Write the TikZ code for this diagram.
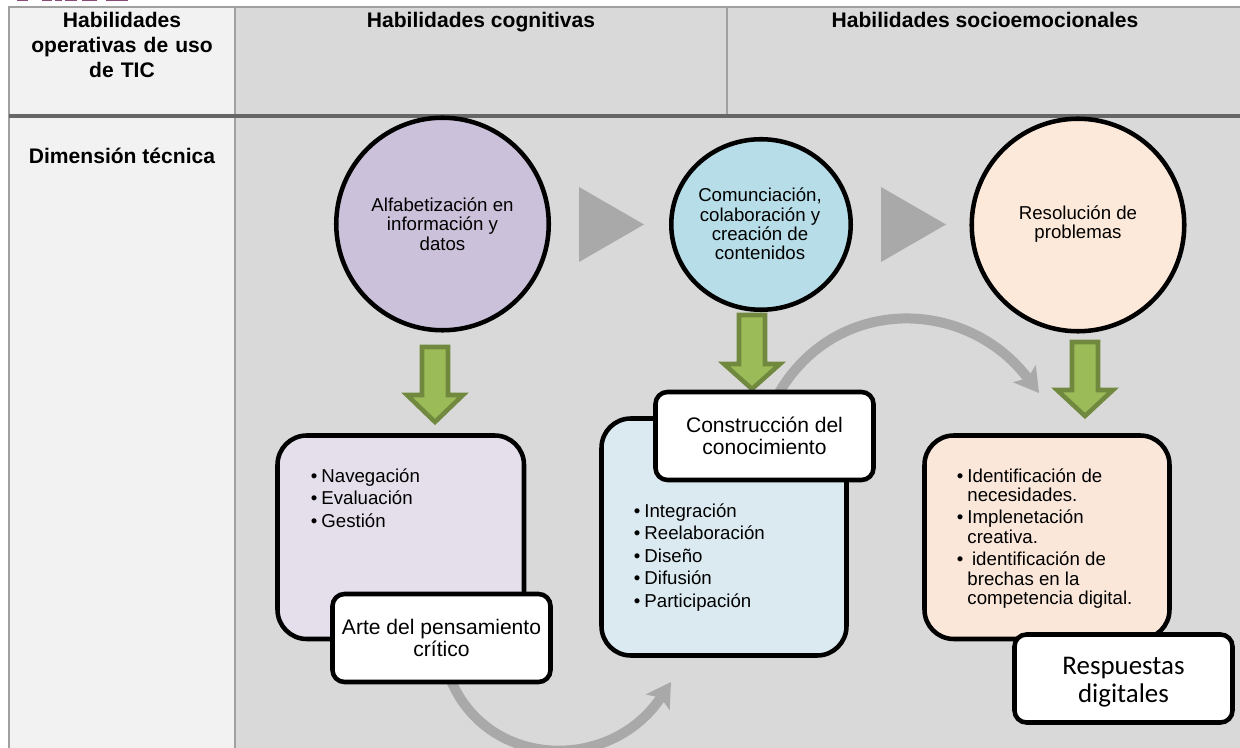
\documentclass[tikz,border=0pt]{standalone}
\usepackage{fontspec}
\setmainfont{Liberation Sans}
\usetikzlibrary{arrows.meta,shapes.geometric}
\newfontfamily\carlitofont{Carlito}
\newcommand{\dotitem}{\makebox[8pt][l]{•}}
\newcommand{\dotskip}{\hspace*{8pt}}
\definecolor{headgray}{HTML}{D9D9D9}
\definecolor{sidegray}{HTML}{F2F2F2}
\definecolor{rulegray}{HTML}{A0A0A0}
\definecolor{rowrule}{HTML}{666666}
\definecolor{tipgray}{HTML}{A9A9A9}
\definecolor{arrowfill}{HTML}{9BBB59}
\definecolor{arrowline}{HTML}{71893F}
\definecolor{logopurple}{HTML}{8A4A78}
\begin{document}
\begin{tikzpicture}[x=.75pt,y=-.75pt,
      circleitem/.style={ellipse, draw, line width=3.4pt, inner sep=0pt},
      circletext/.style={align=center, inner sep=0pt, font=\fontsize{14}{14.6}\selectfont},
      listbox/.style={rounded corners=22pt, draw, line width=3.4pt},
      labelbox/.style={rounded corners=9pt, draw, fill=white, line width=3.4pt, align=center, minimum width=163.5pt, minimum height=66pt, font=\fontsize{15.8}{16.6}\selectfont},
      listtext/.style={anchor=north west, inner sep=0pt, align=left, font=\fontsize{14}{16.9}\selectfont},
      headtext/.style={align=center, inner sep=0pt, font=\bfseries\fontsize{15.8}{18.8}\selectfont},
      flow/.style={line width=7.5pt, tipgray, -{Stealth[length=18pt,width=21pt,inset=4pt]}},
      nextmark/.style={fill=tipgray, draw=none},
      downarrow/.style={fill=arrowfill, draw=arrowline, line width=3.4pt, miter limit=10}]
   \useasboundingbox (0,0) rectangle (1240,748);

   % table
   \fill[sidegray] (9,7) rectangle (235,748);
   \fill[headgray] (235,7) rectangle (1240,748);
   \draw[rulegray, line width=2.2pt] (1240,7) -- (9,7) -- (9,748);
   \draw[rulegray, line width=2.2pt] (235,7) -- (235,748);
   \draw[rulegray, line width=1pt] (727,7) -- (727,116);
   \draw[rowrule, line width=3.2pt] (9,116) -- (1240,116);

   \node[headtext, text width=200pt, anchor=north] (tic) at (122,12) {Habilidades\\operativas de uso\\de TIC};
   \node[headtext, anchor=north] (cognitivas) at (481,12) {Habilidades cognitivas};
   \node[headtext, anchor=north] (socio) at (985,12) {Habilidades socioemocionales};
   \node[headtext] (tecnica) at (122,156) {Dimensión técnica};

   % logo cut by the top edge
   \foreach \xa/\xb in {17/28,42/52,55/62,65/77,82/97,106/128}
      \fill[logopurple] (\xa,0) rectangle (\xb,1.5);

   % curved arrows
   \coordinate (F1) at (447,670);
   \coordinate (F2) at (671,682);
   \coordinate (G1) at (775,400);
   \coordinate (G2) at (1039,393);
   \draw[flow] (F1) .. controls (480,770) and (610,775) .. (F2);
   \draw[flow] (G1) .. controls (830,295) and (965,295) .. (G2);

   % triangles
   \fill[nextmark] (579,187) -- (644,224.5) -- (579,262) -- cycle;
   \fill[nextmark] (881,187) -- (946,224.5) -- (881,262) -- cycle;

   % circles
   \node[circleitem, fill={rgb,255:red,204;green,193;blue,218}, minimum width=159.4pt, minimum height=159.4pt] (A) at (442.5,224) {};
   \node[circleitem, fill={rgb,255:red,183;green,222;blue,232}, minimum width=134.6pt, minimum height=127.9pt] (B) at (761,224.5) {};
   \node[circleitem, fill={rgb,255:red,253;green,233;blue,217}, minimum width=159.4pt, minimum height=159.4pt] (C) at (1078,225) {};

   \node[circletext] (Atext) at (442.5,224) {Alfabetización en\\información y\\datos};
   \node[circletext] (Btext) at (760,224) {Comunciación,\\colaboración y\\creación de\\contenidos};
   \node[circletext] (Ctext) at (1078,224) {Resolución de\\problemas};

   % list boxes
   \draw[listbox, fill={rgb,255:red,229;green,223;blue,236}] (277.5,435.5) rectangle (524,639);
   \draw[listbox, fill={rgb,255:red,219;green,234;blue,241}] (601.5,418.5) rectangle (846.5,655.5);
   \draw[listbox, fill={rgb,255:red,250;green,231;blue,218}] (924.5,435.5) rectangle (1169.5,639);

   \node[listtext] (Ptext) at (310.5,468) {\dotitem Navegación\\\dotitem Evaluación\\\dotitem Gestión};
   \node[listtext] (Qtext) at (633.5,503) {\dotitem Integración\\\dotitem Reelaboración\\\dotitem Diseño\\\dotitem Difusión\\\dotitem Participación};
   \node[listtext] (Rtext) at (956.5,468) {\dotitem Identificación de\\[-2.4pt]
      \dotskip necesidades.\\
      \dotitem Implenetación\\[-2.4pt]
      \dotskip creativa.\\
      \dotitem\hspace{3.5pt}identificación de\\[-2.4pt]
      \dotskip brechas en la\\[-2.4pt]
      \dotskip competencia digital.};

   % green arrows
   \foreach \cx/\ty/\hy/\ey in {435/347/395/422,752/315/364/389,1085/342/390/416}
      \draw[downarrow] (\cx-13,\ty) -- (\cx+13,\ty) -- (\cx+13,\hy) -- (\cx+28,\hy) -- (\cx,\ey) -- (\cx-28,\hy) -- (\cx-13,\hy) -- cycle;

   % label boxes
   \node[labelbox] (Plabel) at (441.5,638) {Arte del pensamiento\\crítico};
   \node[labelbox] (Qlabel) at (764.5,436) {Construcción del\\conocimiento};
   \node[labelbox, font=\carlitofont\fontsize{20.2}{21}\selectfont] (Rlabel) at (1123.5,678.5) {\rule{0pt}{18pt}Respuestas\\digitales};
\end{tikzpicture}
\end{document}
